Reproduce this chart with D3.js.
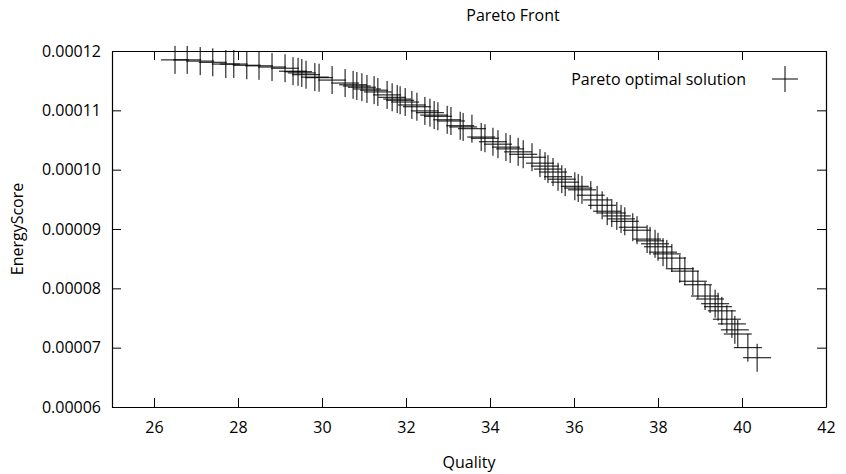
<!DOCTYPE html>
<html>
<head>
<meta charset="utf-8">
<script src="https://cdn.jsdelivr.net/npm/d3@7"></script>
<style>
  html, body { margin: 0; padding: 0; background: #fff; }
  svg { display: block; font-family: "Open Sans", sans-serif; }
</style>
</head>
<body>
<svg id="chart" width="846" height="474"></svg>
<script>
// Data: Pareto front points (Quality, EnergyScore)
const quality = [
  26.50, 26.79, 27.10, 27.40, 27.71, 27.90, 28.21, 28.50, 28.81, 29.12,
  29.31, 29.43, 29.52, 29.62, 29.83, 29.93, 30.24, 30.55, 30.74, 30.83,
  30.95, 31.07, 31.24, 31.33, 31.55, 31.67, 31.79, 31.86, 31.98, 32.14,
  32.26, 32.45, 32.57, 32.67, 32.76, 32.98, 33.07, 33.29, 33.36, 33.57,
  33.79, 33.88, 34.07, 34.19, 34.38, 34.48, 34.67, 34.79, 35.00, 35.19,
  35.31, 35.38, 35.50, 35.62, 35.71, 35.79, 36.02, 36.10, 36.19, 36.40,
  36.55, 36.67, 36.79, 36.90, 37.02, 37.12, 37.21, 37.40, 37.50, 37.74,
  37.81, 37.93, 38.00, 38.12, 38.21, 38.33, 38.52, 38.64, 38.83, 38.95,
  39.12, 39.24, 39.36, 39.43, 39.52, 39.64, 39.76, 39.83, 39.90, 40.14,
  40.36
];
const energyScore = [
  11.85, 11.85, 11.83, 11.81, 11.78, 11.78, 11.76, 11.75, 11.73, 11.71,
  11.66, 11.65, 11.63, 11.60, 11.56, 11.55, 11.51, 11.46, 11.43, 11.41,
  11.39, 11.36, 11.34, 11.31, 11.26, 11.22, 11.19, 11.17, 11.14, 11.09,
  11.06, 10.99, 10.96, 10.92, 10.90, 10.84, 10.82, 10.74, 10.72, 10.69,
  10.55, 10.53, 10.47, 10.43, 10.38, 10.35, 10.30, 10.26, 10.21, 10.11,
  10.06, 10.01, 9.96, 9.88, 9.84, 9.79, 9.72, 9.69, 9.66, 9.57,
  9.49, 9.40, 9.30, 9.27, 9.22, 9.17, 9.13, 9.03, 8.98, 8.83,
  8.80, 8.75, 8.70, 8.61, 8.58, 8.51, 8.33, 8.29, 8.12, 8.06,
  7.87, 7.82, 7.74, 7.69, 7.62, 7.48, 7.40, 7.30, 7.23, 7.00,
  6.83
].map(v => v * 1e-5);

const xTicks = [26, 28, 30, 32, 34, 36, 38, 40, 42];
const yTicks = [0.00006, 0.00007, 0.00008, 0.00009, 0.00010, 0.00011, 0.00012];
const xDomain = [25, 42];
const yDomain = [0.00006, 0.00012];
const title = "Pareto Front";
const xLabel = "Quality";
const yLabel = "EnergyScore";
const seriesName = "Pareto optimal solution";

const points = quality.map((q, i) => ({ x: q, y: energyScore[i] }));

const svg = d3.select("#chart");
const W = 846, H = 474;
const m = { left: 112, right: 20, top: 51, bottom: 67 };

svg.append("rect").attr("width", W).attr("height", H).attr("fill", "#fff");

const x = d3.scaleLinear().domain(xDomain).range([m.left, W - m.right]);
const y = d3.scaleLinear().domain(yDomain).range([H - m.bottom, m.top]);

const tickLen = 9;
const fs = 16;

// Axes
const gB = svg.append("g").attr("transform", `translate(0,${H - m.bottom})`)
  .call(d3.axisBottom(x).tickValues(xTicks).tickSize(-tickLen).tickSizeOuter(0).tickPadding(15).tickFormat(d3.format("d")));
const gT = svg.append("g").attr("transform", `translate(0,${m.top})`)
  .call(d3.axisTop(x).tickValues(xTicks).tickSize(-tickLen).tickSizeOuter(0).tickFormat(""));
const gL = svg.append("g").attr("transform", `translate(${m.left},0)`)
  .call(d3.axisLeft(y).tickValues(yTicks).tickSize(-tickLen).tickSizeOuter(0).tickPadding(11).tickFormat(d3.format(".5f")));
const gR = svg.append("g").attr("transform", `translate(${W - m.right},0)`)
  .call(d3.axisRight(y).tickValues(yTicks).tickSize(-tickLen).tickSizeOuter(0).tickFormat(""));

[gB, gT, gL, gR].forEach(g => {
  g.selectAll(".domain").attr("stroke", "#000").attr("stroke-width", 1.2);
  g.selectAll(".tick line").attr("stroke", "#000").attr("stroke-width", 1);
  g.selectAll(".tick text").attr("fill", "#000").attr("font-size", fs).attr("font-family", "Open Sans, sans-serif");
});

// Title and labels
svg.append("text").attr("x", 513).attr("y", 21).attr("text-anchor", "middle")
  .attr("font-size", fs).attr("fill", "#000").text(title);
svg.append("text").attr("x", (x.range()[0] + x.range()[1]) / 2).attr("y", 468).attr("text-anchor", "middle")
  .attr("font-size", fs).attr("fill", "#000").text(xLabel);
svg.append("text").attr("transform", `translate(23,${(y.range()[0] + y.range()[1]) / 2}) rotate(-90)`)
  .attr("text-anchor", "middle").attr("font-size", fs).attr("fill", "#000").text(yLabel);

// Plus markers
const hw = 14;
const plus = d => `M${x(d.x) - hw},${y(d.y)}H${x(d.x) + hw}M${x(d.x)},${y(d.y) - hw}V${y(d.y) + hw}`;
svg.append("g").selectAll("path").data(points).join("path")
  .attr("d", plus).attr("fill", "none").attr("stroke", "#000").attr("stroke-width", 1);

// Legend
const lg = svg.append("g");
lg.append("text").attr("x", 746).attr("y", 79).attr("dy", "0.35em").attr("text-anchor", "end")
  .attr("font-size", fs).attr("fill", "#000").text(seriesName);
lg.append("path").attr("d", `M${785 - 13},79H${785 + 13}M785,${79 - 13}V${79 + 13}`)
  .attr("stroke", "#000").attr("stroke-width", 1).attr("fill", "none");
</script>
</body>
</html>
